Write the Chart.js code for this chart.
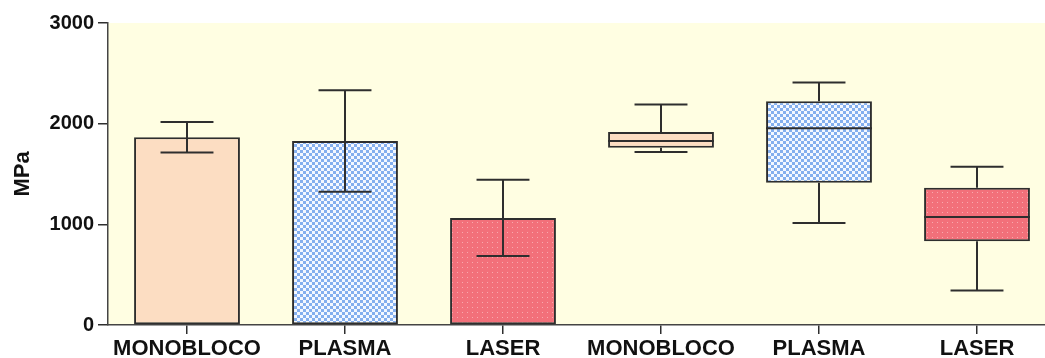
<!DOCTYPE html>
<html>
<head>
<meta charset="utf-8">
<script src="https://cdn.jsdelivr.net/npm/chart.js@4.4.1/dist/chart.umd.min.js"></script>
<style>
  html, body { margin: 0; padding: 0; background: #ffffff; overflow: hidden; }
  #wrap { width: 1045px; height: 358px; overflow: hidden; position: relative; }
  #box { width: 1056px; height: 358px; position: absolute; left: 0; top: 0; }
</style>
</head>
<body>
<div id="wrap"><div id="box"><canvas id="c" width="1056" height="358"></canvas></div></div>
<script>
// Groups along the x axis: first three are mean ± SD bars, last three are box plots
const categories = ['MONOBLOCO', 'PLASMA', 'LASER', 'MONOBLOCO', 'PLASMA', 'LASER'];

// Mean and standard deviation (MPa)
const meanValues = [1865, 1828, 1064];
const sdValues = [152, 505, 378];

// Box plot statistics (MPa)
const boxMin = [1718, 1014, 342];
const boxQ1 = [1761, 1413, 831];
const boxMedian = [1828, 1954, 1072];
const boxQ3 = [1917, 2223, 1363];
const boxMax = [2190, 2410, 1572];

const yTicks = [0, 1000, 2000, 3000];

const INK = '#2e2e2e';
const FONT = '"Liberation Sans", Arial, Helvetica, sans-serif';

function makeTile(w, h, paint) {
  const t = document.createElement('canvas');
  t.width = w; t.height = h;
  const g = t.getContext('2d');
  paint(g);
  return document.getElementById('c').getContext('2d').createPattern(t, 'repeat');
}

const peachFill = '#FCDDC2';
const checkerFill = makeTile(6, 6, g => {
  g.fillStyle = '#F4F8FF'; g.fillRect(0, 0, 6, 6);
  g.fillStyle = '#84AFEE'; g.fillRect(0, 0, 3, 3); g.fillRect(3, 3, 3, 3);
});
const dotFill = makeTile(5, 5, g => {
  g.fillStyle = '#F2707A'; g.fillRect(0, 0, 5, 5);
  g.fillStyle = '#F8A9AE'; g.fillRect(2, 2, 1, 1);
});
const fills = [peachFill, checkerFill, dotFill, peachFill, checkerFill, dotFill];

const nulls3 = [null, null, null];
const barData = meanValues.concat(nulls3);
const boxData = nulls3.concat(boxQ1.map((q, i) => [q, boxQ3[i]]));

const plotBackground = {
  id: 'plotBackground',
  beforeDraw(chart) {
    const { ctx, chartArea: a } = chart;
    ctx.save();
    ctx.fillStyle = '#FFFEE2';
    ctx.fillRect(a.left, a.top, a.right - a.left, a.bottom - a.top);
    ctx.restore();
  }
};

const whiskers = {
  id: 'whiskers',
  afterDatasetsDraw(chart) {
    const { ctx } = chart;
    const y = chart.scales.y;
    const hline = (x0, x1, v) => { const p = y.getPixelForValue(v); ctx.moveTo(x0, p); ctx.lineTo(x1, p); };
    const vline = (x, v0, v1) => { ctx.moveTo(x, y.getPixelForValue(v0)); ctx.lineTo(x, y.getPixelForValue(v1)); };
    ctx.save();
    ctx.strokeStyle = INK;
    ctx.lineWidth = 2;
    ctx.beginPath();
    const bars = chart.getDatasetMeta(0).data;
    meanValues.forEach((m, i) => {
      const el = bars[i];
      const hw = el.width / 4;
      const lo = m - sdValues[i], hi = m + sdValues[i];
      vline(el.x, lo, hi);
      hline(el.x - hw, el.x + hw, lo);
      hline(el.x - hw, el.x + hw, hi);
    });
    const boxes = chart.getDatasetMeta(1).data;
    boxMedian.forEach((md, i) => {
      const el = boxes[i + 3];
      const hw = el.width / 4;
      const half = el.width / 2;
      vline(el.x, boxMin[i], boxQ1[i]);
      vline(el.x, boxQ3[i], boxMax[i]);
      hline(el.x - hw, el.x + hw, boxMin[i]);
      hline(el.x - hw, el.x + hw, boxMax[i]);
      hline(el.x - half, el.x + half, md);
    });
    ctx.stroke();
    ctx.restore();
  }
};

new Chart(document.getElementById('c'), {
  type: 'bar',
  data: {
    labels: categories,
    datasets: [
      { data: barData, backgroundColor: fills, borderColor: INK, borderWidth: 2, borderSkipped: false },
      { data: boxData, backgroundColor: fills, borderColor: INK, borderWidth: 2, borderSkipped: false }
    ]
  },
  options: {
    responsive: false,
    animation: false,
    devicePixelRatio: 1,
    layout: { padding: { top: 23, right: 0, left: 0, bottom: 0 } },
    datasets: { bar: { grouped: false, categoryPercentage: 1, barPercentage: 0.67 } },
    plugins: { legend: { display: false }, tooltip: { enabled: false } },
    scales: {
      x: {
        offset: true,
        grid: { display: true, offset: false, drawOnChartArea: false, tickLength: 9, color: INK, lineWidth: 1.5 },
        border: { display: true, color: '#444', width: 1.5 },
        ticks: { color: '#111', padding: 2, font: { family: FONT, size: 22, weight: 'bold' }, maxRotation: 0, autoSkip: false },
        afterFit(s) { s.height = 33; }
      },
      y: {
        min: 0, max: 3000,
        afterBuildTicks(s) { s.ticks = yTicks.map(v => ({ value: v })); },
        grid: { display: true, drawOnChartArea: false, tickLength: 10, color: INK, lineWidth: 1.5 },
        border: { display: true, color: '#444', width: 1.5 },
        ticks: { color: '#111', padding: 4, font: { family: FONT, size: 20, weight: 'bold' }, callback: v => String(v) },
        title: { display: true, text: 'MPa', color: '#111', padding: { top: 10, bottom: 0 }, font: { family: FONT, size: 22, weight: 'bold' } },
        afterFit(s) { s.width = 108; }
      }
    }
  },
  plugins: [plotBackground, whiskers]
});
</script>
</body>
</html>
